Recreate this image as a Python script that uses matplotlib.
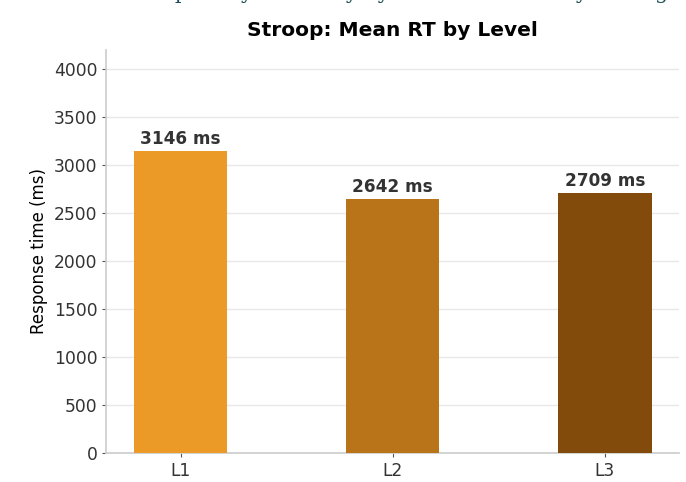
import matplotlib.pyplot as plt

# Mean response time per Stroop level
levels = ['L1', 'L2', 'L3']
mean_rt = [3146, 2642, 2709]
bar_colors = ['#EC9A27', '#B97318', '#824B0B']

fig, ax = plt.subplots(figsize=(6.86, 4.82), dpi=100)
fig.subplots_adjust(left=0.155, right=0.99, top=0.897, bottom=0.06)

x = range(len(levels))
bars = ax.bar(x, mean_rt, width=0.44, color=bar_colors, zorder=3)

for bar, val in zip(bars, mean_rt):
    ax.text(bar.get_x() + bar.get_width() / 2, val + 30, f'{val} ms',
            ha='center', va='bottom', fontsize=12.2, fontweight='bold',
            color='#333333')

ax.set_xticks(list(x))
ax.set_xticklabels(levels)
ax.set_xlim(-0.35, 2.35)
ax.set_ylim(0, 4200)
ax.set_yticks(range(0, 4001, 500))
ax.set_ylabel('Response time (ms)', fontsize=12)
ax.set_title('Stroop: Mean RT by Level', fontsize=14.5, fontweight='bold', pad=10)

ax.tick_params(axis='both', labelsize=12.3, colors='#333333')
ax.tick_params(axis='both', color='#555555', length=3)
ax.grid(axis='y', color='#e8e8e8', linewidth=1, zorder=0)
for side in ['top', 'right']:
    ax.spines[side].set_visible(False)
for side in ['left', 'bottom']:
    ax.spines[side].set_color('#cccccc')
    ax.spines[side].set_linewidth(1.2)

# heading text sitting above the canvas edge
fig.text(0.17, 1.003, 'Stroop study summary by task and difficulty setting',
         family='DejaVu Serif', fontsize=15, color='#1d4f5a', va='baseline')

plt.savefig('out.png', dpi=100)
